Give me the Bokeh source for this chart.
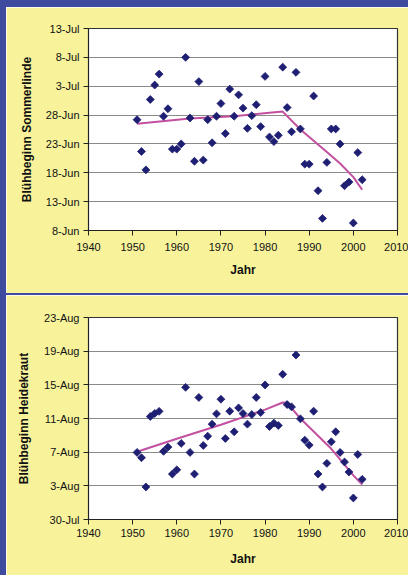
from bokeh.plotting import figure
from bokeh.layouts import column, row
from bokeh.models import FixedTicker, Div
from bokeh.embed import file_html
from bokeh.resources import INLINE

# ---------------- data ----------------
jahre = list(range(1951, 2003))

# Sommerlinde: flowering start, days after 31 May (e.g. 28 = 28-Jun, 33 = 3-Jul)
linde = [27.2, 21.7, 18.5, 30.7, 33.2, 35.1, 27.8, 29.1, 22.1, 22.1,
         23.0, 38.0, 27.5, 20.0, 33.8, 20.2, 27.2, 23.2, 27.8, 30.0,
         24.8, 32.5, 27.8, 31.5, 29.2, 25.7, 27.9, 29.8, 26.0, 34.7,
         24.2, 23.4, 24.5, 36.3, 29.3, 25.1, 35.4, 25.6, 19.5, 19.5,
         31.3, 14.9, 10.1, 19.8, 25.6, 25.6, 23.0, 15.75, 16.4, 9.3,
         21.5, 16.8]
linde_trend_jahre = [1951, 1963, 1973, 1981, 1984, 1988, 1994, 1997, 2000, 2002]
linde_trend = [26.5, 27.4, 27.8, 28.4, 28.6, 25.5, 21.6, 19.6, 17.25, 15.06]
linde_ticks = [8, 13, 18, 23, 28, 33, 38, 43]
linde_labels = ["8-Jun", "13-Jun", "18-Jun", "23-Jun", "28-Jun", "3-Jul", "8-Jul", "13-Jul"]

# Heidekraut: flowering start, days after 31 July (e.g. 7 = 7-Aug, -1 = 30-Jul)
heide = [6.97, 6.34, 2.87, 11.24, 11.6, 11.85, 7.1, 7.6, 4.4, 4.9,
         8.04, 14.7, 6.97, 4.4, 13.5, 7.8, 8.9, 10.33, 11.55, 13.29,
         8.63, 11.87, 9.42, 12.26, 11.59, 10.33, 11.47, 13.5, 11.71, 14.99,
         10.05, 10.45, 10.17, 16.25, 12.66, 12.38, 18.54, 10.96, 8.43, 7.84,
         11.87, 4.4, 2.87, 5.67, 8.23, 9.42, 6.97, 5.83, 4.64, 1.56,
         6.73, 3.77]
heide_trend_jahre = [1951, 1960, 1970, 1980, 1984, 1985, 1988, 1995, 2000, 2002]
heide_trend = [7.05, 8.6, 10.25, 12.06, 12.9, 12.85, 11.0, 7.4, 4.25, 3.14]
heide_ticks = [-1, 3, 7, 11, 15, 19, 23]
heide_labels = ["30-Jul", "3-Aug", "7-Aug", "11-Aug", "15-Aug", "19-Aug", "23-Aug"]

x_ticks = [1940, 1950, 1960, 1970, 1980, 1990, 2000, 2010]

# ---------------- style ----------------
YELLOW = "#F8F39B"
BLUE = "#3F4B9E"
NAVY = "#1E1E72"
MAGENTA = "#C2509F"
GRID = "#8A8A8A"
FONT = "Liberation Sans"
FIG_W = 402


def make_panel(h, top, bottom, left, yr, yticks, ylabels, ylabel,
               xs, ys, tx, ty, x_standoff, xlab_standoff, y_standoff, ylab_standoff):
    p = figure(width=FIG_W, height=h, x_range=(1940, 2010), y_range=yr,
               output_backend="svg", toolbar_location=None,
               min_border_left=left, min_border_right=11,
               min_border_top=top, min_border_bottom=bottom,
               border_fill_color=YELLOW, background_fill_color="white")
    p.outline_line_color = "#333333"
    p.outline_line_width = 1.2
    p.xgrid.grid_line_color = None
    yt = FixedTicker(ticks=yticks)
    p.yaxis.ticker = yt
    p.ygrid.ticker = yt
    p.ygrid.grid_line_color = GRID
    p.ygrid.grid_line_width = 1.2
    p.yaxis.major_label_overrides = {t: l for t, l in zip(yticks, ylabels)}
    p.xaxis.ticker = FixedTicker(ticks=x_ticks)
    for ax in (p.xaxis, p.yaxis):
        ax.major_tick_in = 0
        ax.major_tick_out = 5
        ax.minor_tick_line_color = None
        ax.axis_line_color = "#222222"
        ax.major_tick_line_color = "#222222"
        ax.major_label_text_font = FONT
        ax.major_label_text_font_size = "11px"
        ax.major_label_text_color = "#111111"
        ax.axis_label_text_font = FONT
        ax.axis_label_text_font_size = "12px"
        ax.axis_label_text_font_style = "bold"
        ax.axis_label_text_color = "#111111"
    p.xaxis.axis_label = "Jahr"
    p.yaxis.axis_label = ylabel
    p.xaxis.major_label_standoff = x_standoff
    p.xaxis.axis_label_standoff = xlab_standoff
    p.yaxis.major_label_standoff = y_standoff
    p.yaxis.axis_label_standoff = ylab_standoff

    p.line(tx, ty, line_color=MAGENTA, line_width=2)
    p.scatter(xs, ys, marker="square", angle=0.785398, size=5.6,
              fill_color=NAVY, line_color=NAVY, line_width=0.8)
    return p


p1 = make_panel(286, 21, 63, 79, (8, 43), linde_ticks, linde_labels,
                "Blühbeginn Sommerlinde", jahre, linde,
                linde_trend_jahre, linde_trend, 7, 9, 4, 9)
p2 = make_panel(280, 22, 56, 82, (-1, 23), heide_ticks, heide_labels,
                "Blühbeginn Heidekraut", jahre, heide,
                heide_trend_jahre, heide_trend, 4, 12, 4, 10)

left_strip = Div(text="", width=6, height=575, margin=(0, 0, 0, 0),
                 styles={"background-color": BLUE})
top_band = Div(text="", width=FIG_W, height=7, margin=(0, 0, 0, 0),
               styles={"background-color": BLUE})
sep = Div(text="", width=FIG_W, height=2, margin=(0, 0, 0, 0),
          styles={"background-color": BLUE})

layout = row(left_strip, column(top_band, p1, sep, p2, spacing=0), spacing=0)

open("out.html", "w").write(file_html(layout, INLINE))
